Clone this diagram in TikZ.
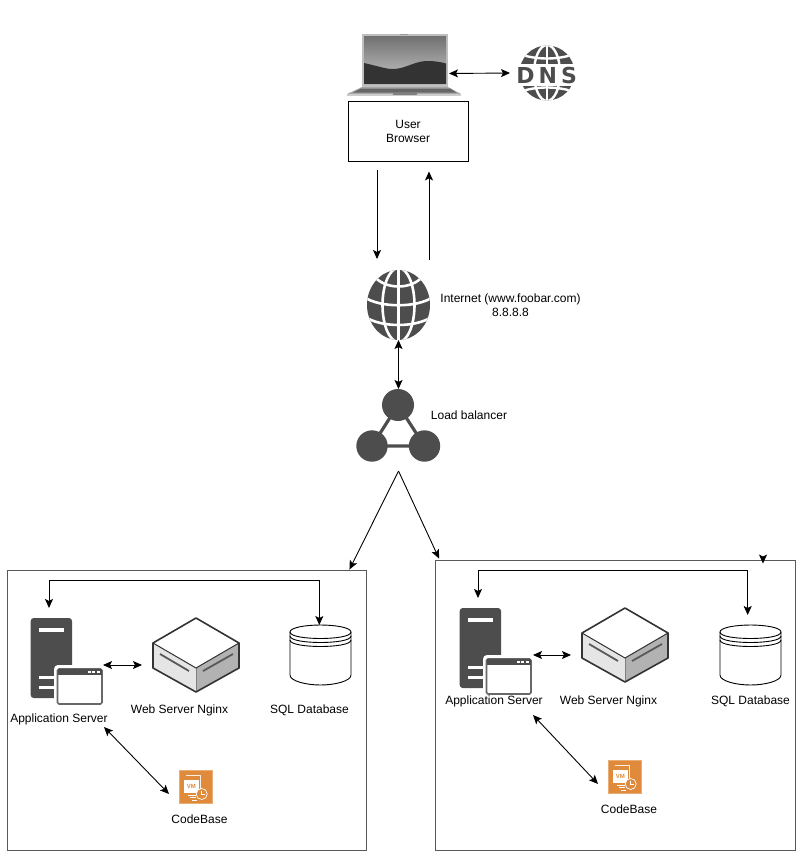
\documentclass[tikz,border=0pt]{standalone}
\usepackage{fontspec}
\setmainfont{Liberation Sans}
\newfontfamily\dnsfont{DejaVu Sans}
\usetikzlibrary{arrows.meta,shadings}
\definecolor{icondark}{HTML}{4D4D4D}
\definecolor{vmorange}{HTML}{E08A3C}
\tikzset{
  x=1pt,y=-1pt,
  tip/.tip={Stealth[length=9pt,width=8pt,inset=2pt]},
  oneway/.style={draw=black,line width=0.9pt,-tip},
  twoway/.style={draw=black,line width=0.9pt,tip-tip},
  container/.style={draw=black!65,line width=0.9pt,inner sep=0pt},
  iconbox/.style={inner sep=0pt,outer sep=0pt},
  caption/.style={font=\fontsize{12}{14}\selectfont,align=center,inner sep=0pt,text=black},
  appicon/.pic={
    \fill[icondark,rounded corners=3pt] (0.7,0) rectangle (42,80);
    \fill[white] (8.7,10) rectangle (34.3,14);
    \fill[white] (8.7,57.7) rectangle (26,61);
    \fill[white] (8.7,67.7) rectangle (26,71);
    \fill[white,rounded corners=4pt] (24,47) rectangle (75,89);
    \draw[icondark!85,fill=white,line width=1.6pt,rounded corners=1.5pt] (27.5,51) rectangle (72,86);
    \fill[icondark] (27.5,51) rectangle (72,57);
    \fill[white] (58,52.8) rectangle (60.8,55.2);
    \fill[white] (62.4,52.8) rectangle (65.2,55.2);
    \fill[white] (66.8,52.8) rectangle (69.6,55.2);
  },
  webicon/.pic={
    \fill[white] (43,0) -- (86,25) -- (43,50) -- (0,25) -- cycle;
    \fill[black!10] (0,25) -- (43,50) -- (43,74) -- (0,50) -- cycle;
    \fill[black!30] (86,25) -- (43,50) -- (43,74) -- (86,50) -- cycle;
    \draw[black!50,line width=0.7pt] (43,50) -- (43,74);
    \draw[black!65,line width=1.8pt] (7,36) -- (36,53);
    \draw[black!65,line width=1.8pt] (50,53) -- (80,36);
    \draw[black!80,line width=1.6pt,line join=round] (43,0) -- (86,25) -- (86,50) -- (43,74) -- (0,50) -- (0,25) -- cycle;
    \draw[black!80,line width=1pt] (0,25) -- (43,50) -- (86,25);
  },
  dbicon/.pic={
    \draw[black,line width=0.9pt,fill=white] (0,7)
      .. controls (0,2.5) and (16,0) .. (30.5,0) .. controls (45,0) and (61,2.5) .. (61,7)
      -- (61,50) .. controls (61,56) and (45,60) .. (30.5,60)
      .. controls (16,60) and (0,56) .. (0,50) -- cycle;
    \foreach \d in {7,11,15}{
      \draw[black,line width=0.9pt] (0,\d) .. controls (0,\d+4.5) and (16,\d+6.5) .. (30.5,\d+6.5)
        .. controls (45,\d+6.5) and (61,\d+4.5) .. (61,\d);
    }
  },
  codeicon/.pic={
    \fill[vmorange] (0,0) rectangle (34,34);
    \draw[white,opacity=.3,line width=0.7pt] (0.4,0.4) rectangle (33.6,33.6);
    \draw[white!85!vmorange,line width=0.6pt] (7,5.5) -- (21,5.5) -- (21,20);
    \fill[white] (5,9.5) rectangle (19.5,23);
    \node[inner sep=0pt,text=vmorange,font=\fontsize{6}{6}\bfseries\selectfont] at (12.3,16) {VM};
    \draw[white,line width=0.7pt,fill=vmorange] (22.7,24) circle (5.5);
    \draw[white,line width=0.6pt] (22.7,20.5) -- (22.7,24) -- (25.5,24);
    \draw[white,line width=0.6pt] (9,25) -- (16.5,25) (11,27.5) -- (17,27.5) (13,30) -- (18,30);
  },
}
\begin{document}
\begin{tikzpicture}
\useasboundingbox (0,0) rectangle (804,851);

% ---- containers
\node[container,minimum width=359pt,minimum height=280pt] (box1) at (186.5,710) {};
\node[container,minimum width=360pt,minimum height=290pt] (box2) at (615.5,705) {};

% ---- laptop
\node[iconbox,minimum width=114pt,minimum height=63pt] (laptop) at (404,65.5) {};
\fill[black!25] (362,34) rectangle (448,87);
\fill[black!40] (400,33.6) rectangle (408,35);
\shade[top color=black!55,bottom color=black!22] (364,37) rectangle (446,84);
\fill[black!80] (364,63) .. controls (378,66) and (385,69) .. (393,69)
  .. controls (405,69) and (415,61) .. (427,61) .. controls (435,61) and (441,62) .. (446,63.5)
  -- (446,84) -- (364,84) -- cycle;
\fill[black!35] (362,87) -- (448,87) -- (461,94) -- (347,94) -- cycle;
\fill[black!60] (361,88.5) -- (450,88.5) -- (456,92.5) -- (353,92.5) -- cycle;
\fill[black!20] (347,94) -- (461,94) -- (461,96) -- (347,96) -- cycle;
\fill[black!50] (393,92.8) rectangle (417,94.5);

% ---- DNS globe
\node[iconbox,minimum width=58pt,minimum height=54pt] (dns) at (547,73) {};
\begin{scope}
  \clip (547,73) circle (27.5);
  \fill[icondark] (519,45) rectangle (575,101);
  \draw[white,line width=2.4pt] (547,44) -- (547,102);
  \draw[white,line width=2.4pt] (547,73) ellipse (13 and 28);
  \draw[white,line width=2.4pt] (520,54) .. controls (535,60) and (559,60) .. (574,54);
  \draw[white,line width=2.4pt] (520,92) .. controls (535,86) and (559,86) .. (574,92);
\end{scope}
\fill[white] (515,64) rectangle (579,86);
\node[inner sep=0pt,text=icondark,font=\dnsfont\fontsize{22}{22}\bfseries\selectfont] (dnstext) at (546.7,75) {D\hspace{4pt}N\hspace{4pt}S};

% ---- browser box
\node[draw=black,line width=0.9pt,minimum width=120pt,minimum height=60pt,inner sep=0pt,caption] (browser) at (408,131) {User\\Browser};

% ---- internet globe
\node[iconbox,minimum width=63pt,minimum height=70pt] (globe) at (398.5,305) {};
\begin{scope}
  \clip (398.5,305) ellipse (31.5 and 35);
  \fill[icondark] (366,269) rectangle (431,341);
  \draw[white,line width=2.6pt] (398.5,268) -- (398.5,342);
  \draw[white,line width=2.6pt] (398.5,305) ellipse (16 and 37);
  \draw[white,line width=2.6pt] (374,276) .. controls (385,290) and (412,290) .. (423,276);
  \draw[white,line width=2.6pt] (364,297) .. controls (380,308) and (417,308) .. (433,297);
  \draw[white,line width=2.6pt] (364,316) .. controls (380,328) and (417,328) .. (433,316);
\end{scope}
\node[caption] (internetlabel) at (510.5,305.5) {Internet (www.foobar.com)\\8.8.8.8};

% ---- load balancer
\node[iconbox,minimum width=85pt,minimum height=73pt] (lb) at (398.5,425.5) {};
\draw[icondark,line width=3.2pt,line join=round] (398,405) -- (372,446) -- (424.5,446) -- cycle;
\fill[icondark] (398,405) circle (16);
\fill[icondark] (372,446) circle (15.7);
\fill[icondark] (424.5,446) circle (15.7);
\node[caption] (lblabel) at (469,415) {Load balancer};

% ---- left group
\pic at (30,618) {appicon};
\pic at (153,618) {webicon};
\pic at (290,625) {dbicon};
\pic at (179,770) {codeicon};
\node[iconbox,minimum width=74pt,minimum height=86pt] (app1) at (67,661) {};
\node[iconbox,minimum width=86pt,minimum height=74pt] (web1) at (196,655) {};
\node[iconbox,minimum width=61pt,minimum height=60pt] (db1) at (320.5,655) {};
\node[iconbox,minimum width=34pt,minimum height=34pt] (code1) at (196,787) {};
\node[caption] (applabel1) at (59,719) {Application Server};
\node[caption] (weblabel1) at (179.5,710) {Web Server Nginx};
\node[caption] (dblabel1) at (309.5,710) {SQL Database};
\node[caption] (codelabel1) at (199.5,819) {CodeBase};

% ---- right group
\pic at (459,608) {appicon};
\pic at (582,608) {webicon};
\pic at (720,625) {dbicon};
\pic at (608,760) {codeicon};
\node[iconbox,minimum width=74pt,minimum height=86pt] (app2) at (496,651) {};
\node[iconbox,minimum width=86pt,minimum height=74pt] (web2) at (625,645) {};
\node[iconbox,minimum width=61pt,minimum height=60pt] (db2) at (750.5,655) {};
\node[iconbox,minimum width=34pt,minimum height=34pt] (code2) at (625,777) {};
\node[caption] (applabel2) at (494,701) {Application Server};
\node[caption] (weblabel2) at (608.5,701) {Web Server Nginx};
\node[caption] (dblabel2) at (750.5,701) {SQL Database};
\node[caption] (codelabel2) at (629,809) {CodeBase};

% ---- connectors
\draw[twoway] ([shift={(-12pt,-8pt)}]laptop.east) -- ([shift={(-8pt,0pt)}]dns.west);
\draw[oneway] ([shift={(-31pt,-9pt)}]browser.south) -- ([shift={(-21.5pt,11pt)}]globe.north);
\draw[oneway] ([shift={(30.5pt,10pt)}]globe.north) -- ([shift={(21pt,-10pt)}]browser.south);
\draw[twoway] (globe.south) -- (lb.north);
\draw[oneway] ([yshift=-9pt]lb.south) -- ([xshift=-17pt]box1.north east);
\draw[oneway] ([yshift=-9pt]lb.south) -- ([shift={(4pt,1pt)}]box2.north west);
\draw[oneway] ([shift={(147.5pt,3pt)}]box2.north) -- ([shift={(147.5pt,-4pt)}]box2.north);

\draw[twoway] ([shift={(-18pt,10pt)}]app1.north) -- ++(0pt,28pt) -| ([xshift=-1.2pt]db1.north);
\draw[twoway] ([shift={(-1pt,-4pt)}]app1.east) -- ([shift={(-11pt,-10pt)}]web1.west);
\draw[twoway] ([shift={(0pt,-23pt)}]app1.south east) -- ([shift={(-10pt,-7pt)}]code1.west);

\draw[twoway] ([shift={(-18pt,10pt)}]app2.north) -- ++(0pt,28pt) -| ([shift={(-2.8pt,10pt)}]db2.north);
\draw[twoway] ([shift={(0pt,-4pt)}]app2.east) -- ([shift={(-11pt,-10pt)}]web2.west);
\draw[twoway] ([shift={(0pt,-21pt)}]app2.south east) -- ([shift={(-10pt,-7pt)}]code2.west);
\end{tikzpicture}
\end{document}
